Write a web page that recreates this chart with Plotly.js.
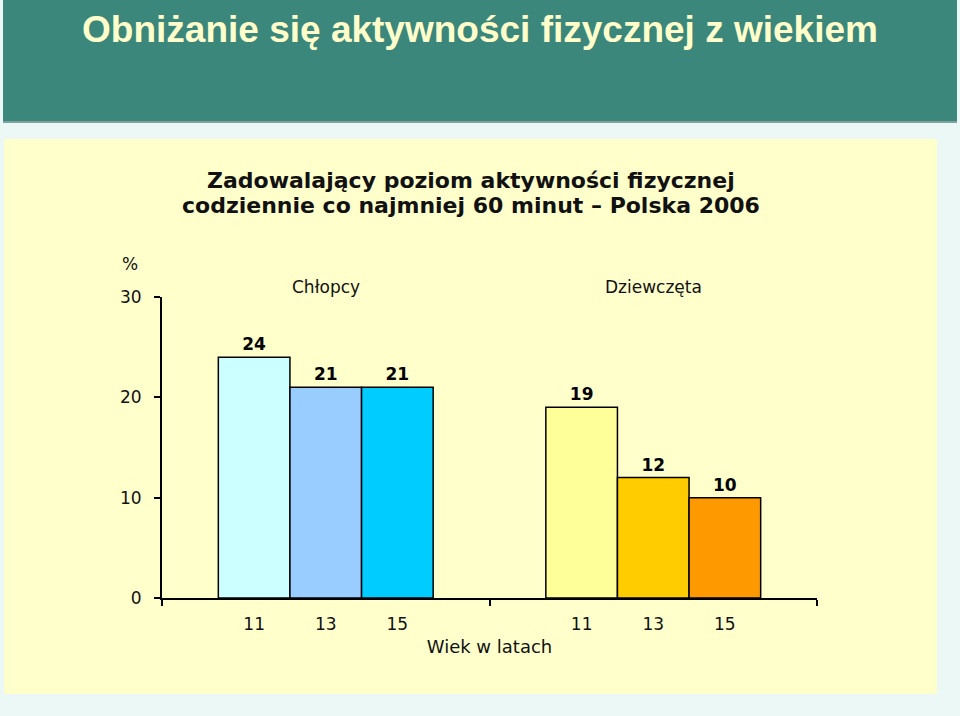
<!DOCTYPE html>
<html>
<head>
<meta charset="utf-8">
<script src="https://cdn.plot.ly/plotly-3.0.1.min.js"></script>
<style>html,body{margin:0;padding:0;background:#EBF8F5;}#chart{width:960px;height:716px;}</style>
</head>
<body>
<div id="chart"></div>
<script>
// ---- data ----
const groups = ['Chłopcy', 'Dziewczęta'];
const ages = ['11', '13', '15'];
const boys = [24, 21, 21];
const girls = [19, 12, 10];
const boyColors = ['#CCFFFF', '#99CCFF', '#00CCFF'];
const girlColors = ['#FFFF99', '#FFCC00', '#FF9900'];
const yTicks = [0, 10, 20, 30];
const mainTitle = 'Obniżanie się aktywności fizycznej z wiekiem';
const chartTitleLines = ['Zadowalający poziom aktywności fizycznej', 'codziennie co najmniej 60 minut – Polska 2006'];
const xTitle = 'Wiek w latach';
const yUnit = '%';

// ---- layout geometry ----
const W = 960, H = 716;
const M = {l: 162, r: 143, t: 297, b: 118};
const pw = W - M.l - M.r, ph = H - M.t - M.b;
const px = x => (x - M.l) / pw;          // pixel -> paper x
const py = y => (H - M.b - y) / ph;      // pixel -> paper y
const bargap = 0.344;
const gw = 1 - bargap;

const traces = ages.map((a, k) => ({
  type: 'bar',
  name: a,
  x: groups.map((g, i) => i),
  y: [boys[k], girls[k]],
  marker: {color: [boyColors[k], girlColors[k]], line: {color: '#000', width: 1.5}},
  text: [boys[k], girls[k]].map(v => '<b>' + v + '</b>'),
  textposition: 'outside',
  textfont: {family: 'DejaVu Sans', size: 17, color: '#000'},
  cliponaxis: false,
  hoverinfo: 'skip'
}));

const tickvals = [], ticktext = [];
groups.forEach((g, i) => ages.forEach((a, k) => {
  tickvals.push(i - gw / 2 + (k + 0.5) * gw / ages.length);
  ticktext.push(a);
}));

const shapes = [
  {type: 'rect', xref: 'paper', yref: 'paper', x0: px(4), x1: px(937), y0: py(694), y1: py(139),
   fillcolor: '#FFFFCC', line: {width: 0}, layer: 'below'},
  {type: 'rect', xref: 'paper', yref: 'paper', x0: px(3), x1: px(957), y0: py(123), y1: py(0),
   fillcolor: '#7FA39C', line: {width: 0}, layer: 'below'},
  {type: 'rect', xref: 'paper', yref: 'paper', x0: px(3), x1: px(957), y0: py(121), y1: py(0),
   fillcolor: '#3C877B', line: {width: 0}, layer: 'below'}
];

const annotations = [
  ...chartTitleLines.map((t, i) => ({text: '<b>' + t + '</b>', xref: 'paper', yref: 'paper', x: px(471), y: py(180 + 25 * i),
   xanchor: 'center', yanchor: 'middle', showarrow: false, font: {family: 'DejaVu Sans', size: 22, color: '#111'}})),
  {text: yUnit, xref: 'paper', yref: 'paper', x: px(130), y: py(264), xanchor: 'center', yanchor: 'middle',
   showarrow: false, font: {family: 'DejaVu Sans', size: 17, color: '#111'}},
  ...groups.map((g, i) => ({text: g, xref: 'x', yref: 'paper', x: i, y: py(287), xanchor: 'center', yanchor: 'middle',
   showarrow: false, font: {family: 'DejaVu Sans', size: 17, color: '#111'}}))
];

const layout = {
  width: W, height: H,
  margin: M,
  paper_bgcolor: '#EBF8F5',
  plot_bgcolor: 'rgba(0,0,0,0)',
  showlegend: false,
  barmode: 'group', bargap: bargap, bargroupgap: 0,
  title: {text: mainTitle, x: 0.5, xanchor: 'center', y: 1 - 29 / H, yanchor: 'middle',
          font: {family: 'Liberation Sans, Arial', size: 37, weight: 'bold', color: '#FFFFCC'}},
  xaxis: {
    type: 'linear', range: [-0.5, groups.length - 0.5], fixedrange: true,
    tickmode: 'array', tickvals: tickvals, ticktext: ticktext, ticks: '', ticklabelstandoff: 10,
    tickfont: {family: 'DejaVu Sans', size: 17, color: '#111'},
    minor: {tickmode: 'array', tickvals: [-0.5, 0.5, 1.5], ticks: 'outside', ticklen: 6, tickwidth: 2, tickcolor: '#000', showgrid: false},
    showline: true, linecolor: '#000', linewidth: 2, showgrid: false, zeroline: false,
    title: {text: xTitle, standoff: 7, font: {family: 'DejaVu Sans', size: 18, color: '#111'}},
    automargin: false
  },
  yaxis: {
    range: [0, 30], fixedrange: true, tickmode: 'array', tickvals: yTicks,
    ticks: 'outside', ticklen: 6, tickwidth: 2, tickcolor: '#000', ticklabelstandoff: 9,
    tickfont: {family: 'DejaVu Sans', size: 17, color: '#111'},
    showline: true, linecolor: '#000', linewidth: 2, showgrid: false, zeroline: false,
    automargin: false
  },
  shapes: shapes,
  annotations: annotations
};

Plotly.newPlot('chart', traces, layout, {displayModeBar: false, staticPlot: true});
</script>
</body>
</html>
